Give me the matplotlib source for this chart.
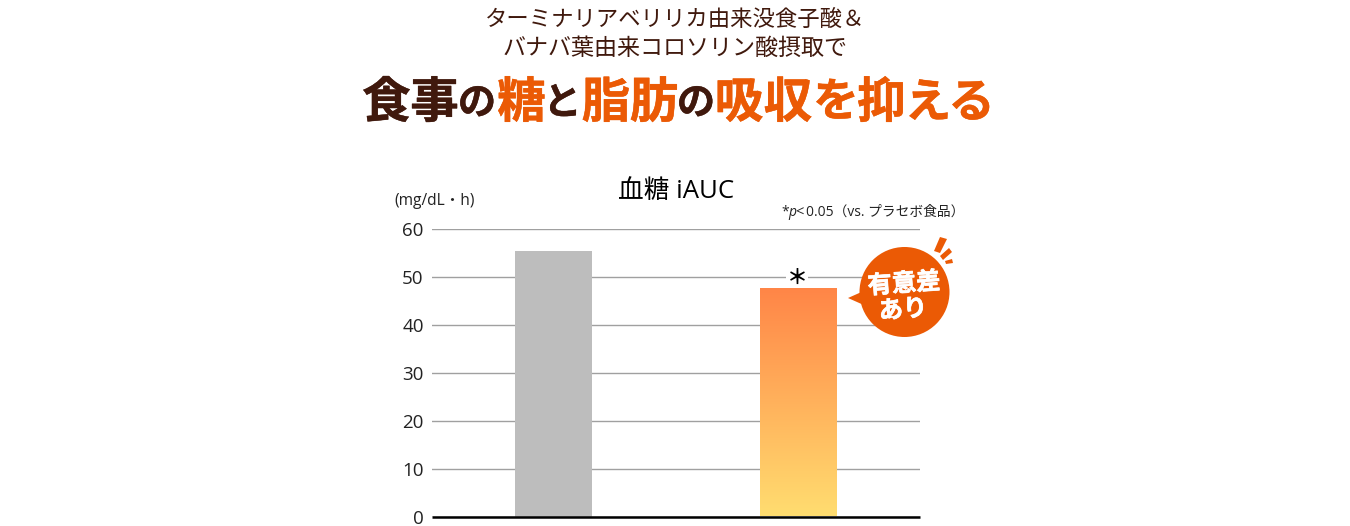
import matplotlib
matplotlib.use("Agg")
import matplotlib.pyplot as plt
import matplotlib.patheffects as pe
from matplotlib.colors import LinearSegmentedColormap
from matplotlib.patches import Circle, Polygon
import numpy as np

W, H = 1350, 526
JP = ['Noto Sans CJK JP', 'DejaVu Sans']
LAT = ['Open Sans', 'Noto Sans CJK JP', 'DejaVu Sans']
plt.rcParams['font.family'] = JP

categories = ['プラセボ食品', 'ターミナリアベリリカ由来没食子酸&バナバ葉由来コロソリン酸']
values = [55.4, 47.6]
yticks = [0, 10, 20, 30, 40, 50, 60]
subtitle = [('ターミナリアベリリカ由来没食子酸＆', 16.1, 19), ('バナバ葉由来コロソリン酸摂取で', 16.6, 48)]
DARK, ORANGE = '#40190d', '#eb5a05'
headline = [('食', DARK, 35, 386.5), ('事', DARK, 35, 434.5), ('の', DARK, 27.5, 477),
            ('糖', ORANGE, 35, 521.5), ('と', DARK, 27.5, 562.5), ('脂', ORANGE, 35, 606),
            ('肪', ORANGE, 35, 654), ('の', DARK, 27.5, 696), ('吸', ORANGE, 35, 739),
            ('収', ORANGE, 35, 788), ('を', ORANGE, 33, 836), ('抑', ORANGE, 35, 881.5),
            ('え', ORANGE, 33.5, 928), ('る', ORANGE, 33.5, 971.5)]

fig = plt.figure(figsize=(W / 100, H / 100), dpi=100, facecolor='white')
L, R, T, B = 432, 920, 228.5, 516.5
ax = fig.add_axes([L / W, 1 - B / H, (R - L) / W, (B - T) / H])
ax.set_yticks(yticks)
ax.set_yticklabels([str(v) for v in yticks], family=LAT)
ax.tick_params(axis='y', length=0, pad=6, labelsize=13.5, labelcolor='#222222')
ax.tick_params(axis='x', length=0, labelbottom=False)
ax.set_xticks([0, 1])
for s in ('top', 'left', 'right'):
    ax.spines[s].set_visible(False)
ax.spines['bottom'].set_linewidth(1.8)
ax.spines['bottom'].set_color('black')
ax.spines['bottom'].set_zorder(6)
ax.spines['bottom'].set_capstyle('butt')
ax.yaxis.grid(True, color='#a0a0a0', lw=1)
ax.set_axisbelow(True)

bars = ax.bar([0, 1], values, width=0.314, color=['#bdbdbd', 'none'], zorder=3)
cmap = LinearSegmentedColormap.from_list('g', ['#ffdd70', '#ff8547'])
grad = np.linspace(0, 1, 256).reshape(-1, 1)
im = ax.imshow(grad, origin='lower', aspect='auto', cmap=cmap, zorder=3,
               extent=(1 - 0.157, 1 + 0.157, 0, values[1]))
im.set_clip_path(bars[1])
ax.set_xlim(-0.496, 1.496)
ax.set_ylim(0, 60)

# pixel-coordinate overlay for headings and callout
ov = fig.add_axes([0, 0, 1, 1], facecolor='none')
ov.set_xlim(0, W)
ov.set_ylim(H, 0)
ov.axis('off')

for txt, size, y in subtitle:
    ov.text(675, y, txt, ha='center', va='center', fontsize=size, color=DARK)
for txt, col, size, x in headline:
    ov.text(x, 103, txt, ha='center', va='center', fontsize=size, color=col, fontweight='bold',
            path_effects=[pe.withStroke(linewidth=0.3, foreground=col)])

ov.text(676, 192, '血糖 iAUC', ha='center', va='center', fontsize=18.5, color='black', family=LAT)
ov.text(435, 201, '(mg/dL・h)', ha='center', va='center', fontsize=11.2, color='#222222', family=LAT)
ov.text(781, 212, '*', ha='left', va='center', fontsize=10, color='#222222', family=LAT)
ov.text(788, 212, 'p', ha='left', va='center', fontsize=10, color='#222222', style='italic', family=['Open Sans'])
ov.text(795, 213, '<', ha='left', va='center', fontsize=10.5, color='#222222', family=LAT)
ov.text(806, 212, '0.05（vs. プラセボ食品）', ha='left', va='center', fontsize=9.9, color='#222222', family=LAT)

ov.add_patch(Polygon([(786, 268), (808, 268), (808, 285), (786, 285)], fc='white', ec='none'))
ov.text(797, 277, '＊', ha='center', va='center', fontsize=15, color='black', fontweight='bold')

ov.add_patch(Circle((904.5, 292), 45, fc=ORANGE, ec='none'))
ov.add_patch(Polygon([(848, 298), (866, 290), (866, 306)], fc=ORANGE, ec='none'))
ov.add_patch(Polygon([(934, 251), (940, 253), (947, 239), (940, 237)], fc=ORANGE, ec='none'))
ov.add_patch(Polygon([(940, 256), (943, 260), (952, 252), (949, 248)], fc=ORANGE, ec='none'))
ov.add_patch(Polygon([(945, 261), (946, 264), (953, 263), (952, 259)], fc=ORANGE, ec='none'))
stroke = [pe.withStroke(linewidth=0.5, foreground='white')]
ov.text(904, 284, '有意差', ha='center', va='center', fontsize=17.5, color='white', fontweight='bold',
        rotation=4, path_effects=stroke)
ov.text(903, 310, 'あり', ha='center', va='center', fontsize=17.5, color='white', fontweight='bold',
        rotation=4, path_effects=stroke)

fig.savefig('out.png', dpi=100, facecolor='white')
